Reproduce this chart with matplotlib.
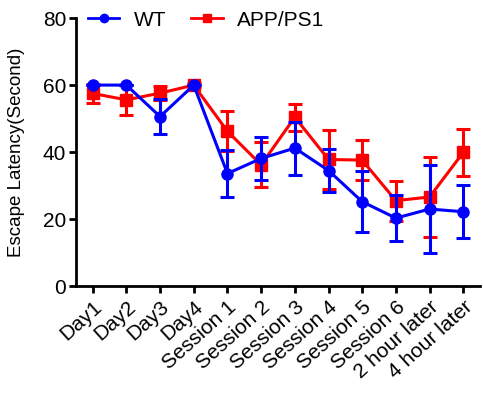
import matplotlib.pyplot as plt
from matplotlib.lines import Line2D
import numpy as np

plt.rcParams['font.family'] = ['Liberation Sans', 'DejaVu Sans']

# ========== 数据 ==========
labels = ["Day1", "Day2", "Day3", "Day4", "Session 1", "Session 2", "Session 3",
          "Session 4", "Session 5", "Session 6", "2 hour later", "4 hour later"]
wt_mean = [60, 60, 50.6, 60, 33.6, 38.1, 41.2, 34.5, 25.2, 20.3, 23.0, 22.2]
wt_err = [0, 0, 5.1, 0, 7.0, 6.5, 7.9, 6.5, 9.1, 6.8, 13.0, 7.9]
app_mean = [57.5, 55.6, 57.6, 60, 46.2, 36.2, 50.4, 37.8, 37.6, 25.5, 26.6, 39.9]
app_err = [2.7, 4.5, 2.0, 0.5, 6.0, 6.7, 4.1, 8.7, 5.9, 6.0, 11.9, 6.9]

x = np.arange(len(labels))

fig = plt.figure(figsize=(4.83, 3.93), dpi=100)
ax = fig.add_axes([0.157, 0.272, 0.837, 0.682])

ax.errorbar(x, app_mean, yerr=app_err, color='#ff0000', marker='s', markersize=8,
            linewidth=2.2, elinewidth=2.2, capsize=5, capthick=2.2, zorder=3)
ax.errorbar(x, wt_mean, yerr=wt_err, color='#0000ff', marker='o', markersize=8,
            linewidth=2.2, elinewidth=2.2, capsize=5, capthick=2.2, zorder=4)

ax.set_xlim(-0.5, 11.5)
ax.set_ylim(0, 80)
ax.set_yticks([0, 20, 40, 60, 80])
ax.set_xticks(x)
ax.set_xticklabels(labels, rotation=42, ha='right', rotation_mode='anchor', fontsize=15)
ax.tick_params(axis='y', labelsize=15, width=2, length=5, pad=2)
ax.tick_params(axis='x', width=2, length=5, pad=3)
ax.set_ylabel("Escape Latency(Second)", fontsize=13.5)
ax.yaxis.set_label_coords(-0.125, 0.5)

for s in ['top', 'right']:
    ax.spines[s].set_visible(False)
for s in ['left', 'bottom']:
    ax.spines[s].set_linewidth(2)

handles = [Line2D([], [], color='#0000ff', marker='o', markersize=6, linewidth=2),
           Line2D([], [], color='#ff0000', marker='s', markersize=6, linewidth=2)]
fig.legend(handles, ['WT', 'APP/PS1'], loc='center left',
           bbox_to_anchor=(88 / 483, 1 - 20 / 393), ncol=2,
           frameon=False, fontsize=15, handlelength=1.5, columnspacing=1.2,
           handletextpad=0.7, borderpad=0, borderaxespad=0)

plt.savefig("out.png", dpi=100)
